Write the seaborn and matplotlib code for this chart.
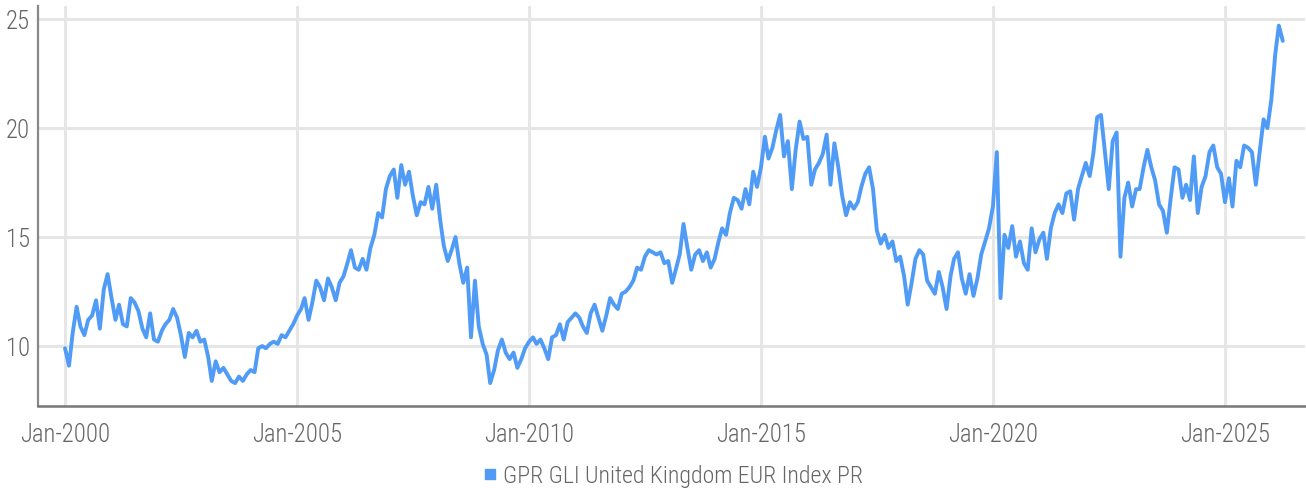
import pandas as pd
import numpy as np
import matplotlib
matplotlib.use("Agg")
import matplotlib.pyplot as plt
import matplotlib.dates as mdates
from matplotlib import font_manager
from matplotlib.lines import Line2D
import seaborn as sns

# monthly values (index level, start of each month)
vals_2000_2004 = [
    9.9, 9.1, 10.6, 11.8, 10.9, 10.5, 11.2, 11.4, 12.1, 10.8, 12.6, 13.3,
    12.2, 11.2, 11.9, 11.0, 10.9, 12.2, 12.0, 11.6, 10.8, 10.4, 11.5, 10.3,
    10.2, 10.7, 11.0, 11.2, 11.7, 11.3, 10.5, 9.5, 10.6, 10.4, 10.7, 10.2,
    10.3, 9.5, 8.4, 9.3, 8.8, 9.0, 8.7, 8.4, 8.3, 8.6, 8.4, 8.7,
    8.9, 8.8, 9.9, 10.0, 9.9, 10.1, 10.2, 10.1, 10.5, 10.4, 10.7, 11.0,
]
vals_2005_2009 = [
    11.4, 11.7, 12.2, 11.2, 12.0, 13.0, 12.7, 12.1, 13.1, 12.7, 12.1, 12.9,
    13.2, 13.8, 14.4, 13.6, 13.5, 14.0, 13.5, 14.5, 15.1, 16.1, 15.9, 17.2,
    17.8, 18.1, 16.8, 18.3, 17.4, 18.0, 16.9, 16.0, 16.6, 16.5, 17.3, 16.3,
    17.4, 15.8, 14.6, 13.9, 14.4, 15.0, 13.8, 12.9, 13.6, 10.4, 13.0, 10.9,
    10.1, 9.6, 8.3, 8.9, 9.8, 10.3, 9.7, 9.4, 9.7, 9.0, 9.4, 9.9,
]
vals_2010_2014 = [
    10.2, 10.4, 10.1, 10.3, 9.9, 9.4, 10.4, 10.5, 11.0, 10.3, 11.1, 11.3,
    11.5, 11.3, 10.9, 10.6, 11.5, 11.9, 11.3, 10.7, 11.4, 12.2, 11.9, 11.7,
    12.4, 12.5, 12.7, 13.0, 13.6, 13.5, 14.1, 14.4, 14.3, 14.2, 14.3, 13.8,
    13.9, 12.9, 13.5, 14.2, 15.6, 14.5, 13.5, 14.2, 14.4, 13.9, 14.3, 13.6,
    14.0, 14.8, 15.4, 15.1, 16.1, 16.8, 16.7, 16.3, 17.2, 16.5, 18.0, 17.3,
]
vals_2015_2019 = [
    18.2, 19.6, 18.6, 19.1, 19.9, 20.6, 18.7, 19.4, 17.2, 19.0, 20.3, 19.5,
    19.6, 17.4, 18.1, 18.4, 18.8, 19.7, 17.4, 19.3, 18.2, 16.9, 16.0, 16.6,
    16.3, 16.6, 17.3, 17.9, 18.2, 17.2, 15.3, 14.7, 15.1, 14.5, 14.8, 13.9,
    14.1, 13.2, 11.9, 12.9, 14.0, 14.4, 14.2, 13.0, 12.7, 12.4, 13.4, 12.7,
    11.7, 13.2, 14.0, 14.3, 13.1, 12.4, 13.3, 12.3, 13.1, 14.2, 14.8, 15.4,
]
vals_2020_2026 = [
    16.4, 18.9, 12.2, 15.1, 14.5, 15.5, 14.1, 14.8, 13.8, 13.5, 15.4, 14.3,
    14.9, 15.2, 14.0, 15.4, 16.1, 16.5, 16.1, 17.0, 17.1, 15.8, 17.2, 17.8,
    18.4, 17.8, 18.8, 20.5, 20.6, 18.9, 17.2, 19.4, 19.8, 14.1, 16.8, 17.5,
    16.4, 17.2, 17.2, 18.2, 19.0, 18.2, 17.6, 16.5, 16.2, 15.2, 16.8, 18.2,
    18.1, 16.8, 17.4, 16.7, 18.7, 16.1, 17.3, 17.8, 18.9, 19.2, 18.2, 17.9,
    16.6, 17.7, 16.4, 18.5, 18.2, 19.2, 19.1, 18.9, 17.4, 18.9, 20.4, 20.0,
    21.3, 23.4, 24.7, 24.0,
]
series_name = "GPR GLI United Kingdom EUR Index PR"
tick_years = [2000, 2005, 2010, 2015, 2020, 2025]
y_ticks = [10, 15, 20, 25]

values = vals_2000_2004 + vals_2005_2009 + vals_2010_2014 + vals_2015_2019 + vals_2020_2026
df = pd.DataFrame({
    "date": pd.date_range("2000-01-01", periods=len(values), freq="MS"),
    "value": values,
})

sns.set_style("white")

# the original uses a condensed face; take one if it is there, else shrink Roboto
installed = {f.name for f in font_manager.fontManager.ttflist}
if "Roboto Condensed" in installed:
    fam, fs, fs_leg = "Roboto Condensed", 17.8, 17.2
elif "Liberation Sans Narrow" in installed:
    fam, fs, fs_leg = "Liberation Sans Narrow", 18.0, 17.5
else:
    fam, fs, fs_leg = "Roboto", 15.3, 14.6
plt.rcParams["font.family"] = [fam, "DejaVu Sans"]

line_col = "#4f9bf6"
txt_col = "#666666"

fig = plt.figure(figsize=(13.06, 4.91), dpi=100)
ax = fig.add_axes([38 / 1306, 85 / 491, 1267 / 1306, 400 / 491])

sns.lineplot(data=df, x="date", y="value", ax=ax, color=line_col, lw=2.8, legend=False)

ax.set_xlim(pd.Timestamp("1999-06-02"), pd.Timestamp("2026-09-23"))
ax.set_ylim(7.25, 25.6)
ax.set_xticks([pd.Timestamp(f"{y}-01-01") for y in tick_years])
ax.xaxis.set_major_formatter(mdates.DateFormatter("%b-%Y"))
ax.set_yticks(y_ticks)
ax.set_xlabel("")
ax.set_ylabel("")

ax.grid(True, color="#e6e6e6", lw=2.2)
ax.set_axisbelow(True)
for s in ["top", "right"]:
    ax.spines[s].set_visible(False)
ax.spines["left"].set_color("#888888")
ax.spines["left"].set_linewidth(1.6)
ax.spines["bottom"].set_color("#777777")
ax.spines["bottom"].set_linewidth(1.8)

ax.tick_params(axis="x", length=0, pad=12, labelsize=fs, labelcolor=txt_col)
ax.tick_params(axis="y", length=0, pad=6, labelsize=fs, labelcolor=txt_col)
for lab in ax.get_xticklabels() + ax.get_yticklabels():
    lab.set_fontweight("light")

handle = Line2D([], [], marker="s", ls="none", color=line_col, markersize=7.5, label=series_name)
leg = ax.legend(handles=[handle], loc="center", bbox_to_anchor=(0.5, -0.175),
                frameon=False, handletextpad=0.15, handlelength=0.8,
                prop={"size": fs_leg, "weight": "light"})
for t in leg.get_texts():
    t.set_color(txt_col)

fig.savefig("out.png", dpi=100)
